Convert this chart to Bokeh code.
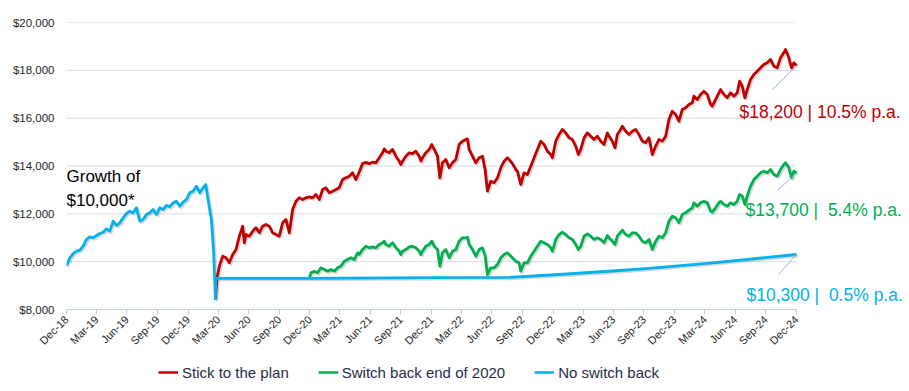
import math
import pandas as pd
from bokeh.plotting import figure
from bokeh.layouts import column
from bokeh.models import (Range1d, FixedTicker, DatetimeTickFormatter, NumeralTickFormatter,
                          Legend, LegendItem, Label)
from bokeh.embed import file_html
from bokeh.resources import INLINE

# ---------------- data ----------------
START = "2018-12-31"
END = "2024-12-31"

series_names = ["Stick to the plan", "Switch back end of 2020", "No switch back"]
series_colors = ["#C00000", "#00B050", "#00B0F0"]
end_labels = ["$18,200 | 10.5% p.a.", "$13,700 |\u00a0 5.4% p.a.", "$10,300 |\u00a0 0.5% p.a."]
title_text = "Growth of\n$10,000*"

y_ticks = [8000, 10000, 12000, 14000, 16000, 18000, 20000]
tick_dates = ["2018-12-31", "2019-03-31", "2019-06-30", "2019-09-30", "2019-12-31",
              "2020-03-31", "2020-06-30", "2020-09-30", "2020-12-31",
              "2021-03-31", "2021-06-30", "2021-09-30", "2021-12-31",
              "2022-03-31", "2022-06-30", "2022-09-30", "2022-12-31",
              "2023-03-31", "2023-06-30", "2023-09-30", "2023-12-31",
              "2024-03-31", "2024-06-30", "2024-09-30", "2024-12-31"]

# "No switch back" (shared history until the March 2020 switch to cash)
blue_days = [0, 10, 20, 30, 40, 50, 60, 70, 80, 90, 100, 110, 120, 130, 140, 150, 160,
             170, 180, 190, 200, 210, 220, 230, 240, 250, 260, 270, 280, 290, 300, 310,
             320, 330, 340, 350, 360, 370, 380, 390, 400, 410, 418, 425, 435, 442, 447,
             448, 729, 1100, 1329, 1479, 1629, 1749, 1949, 2192]
blue_vals = [9840, 10160, 10340, 10439, 10480, 10648, 10927, 11038, 10996, 11094, 11178,
             11233, 11373, 11275, 11693, 11512, 11623, 11832, 12014, 12111, 12042, 12251,
             11693, 11763, 11972, 12042, 12181, 11972, 12251, 12181, 12348, 12292, 12460,
             12529, 12320, 12488, 12599, 12878, 12947, 13157, 12878, 13087, 13226, 12599,
             11763, 10369, 8446,
             9300, 9300, 9330, 9345, 9463, 9600, 9720, 9960, 10300]

# "Stick to the plan"
red_days = [447, 450, 452, 459, 469, 479, 489, 499, 509, 519, 529, 534, 539, 549, 559, 569,
            579, 589, 599, 609, 619, 629, 639, 649, 659, 669, 679, 689, 699, 709, 719, 729,
            739, 749, 759, 769, 779, 789, 799, 809, 819, 829, 839, 849, 859, 869, 879, 889,
            899, 909, 919, 929, 939, 949, 954, 959, 969, 979, 989, 999, 1004, 1009, 1019,
            1029, 1039, 1049, 1059, 1064, 1069, 1079, 1089, 1097, 1104, 1114, 1121, 1129,
            1139, 1149, 1159, 1169, 1179, 1189, 1199, 1204, 1209, 1219, 1229, 1239, 1249,
            1257, 1264, 1274, 1284, 1294, 1304, 1314, 1324, 1329, 1339, 1349, 1354, 1359,
            1364, 1374, 1384, 1394, 1404, 1414, 1424, 1434, 1444, 1454, 1459, 1469, 1479,
            1489, 1499, 1509, 1519, 1529, 1537, 1544, 1554, 1564, 1574, 1584, 1594, 1604,
            1614, 1624, 1629, 1639, 1647, 1654, 1664, 1669, 1679, 1689, 1699, 1709, 1719,
            1729, 1739, 1749, 1759, 1769, 1779, 1789, 1799, 1809, 1819, 1829, 1839, 1849,
            1859, 1869, 1879, 1884, 1894, 1904, 1914, 1924, 1934, 1939, 1949, 1959, 1964,
            1974, 1984, 1994, 2004, 2014, 2021, 2029, 2037, 2044, 2054, 2064, 2074, 2084,
            2094, 2104, 2114, 2124, 2134, 2144, 2154, 2159, 2169, 2177, 2184, 2192]
red_vals = [8446, 9000, 9324, 9812, 10230, 10160, 9951, 10300, 10508, 11066, 11484, 10787,
            11136, 11066, 11275, 11414, 11205, 11484, 11554, 11484, 11205, 11136, 11066,
            11623, 11763, 11205, 12181, 12529, 12669, 12599, 12669, 12710, 12669, 12808,
            12599, 13017, 13087, 12878, 12947, 13017, 13087, 13435, 13505, 13575, 13714,
            13435, 13750, 14100, 14150, 14100, 14160, 14132, 14341, 14550, 14717, 14620,
            14550, 14690, 14411, 14202, 14062, 14202, 14411, 14550, 14522, 14620, 14411,
            14202, 14341, 14550, 14690, 14899, 14690, 14411, 13505, 14132, 14272, 13923,
            14132, 14272, 14899, 15038, 15108, 15136, 14690, 14411, 14132, 14341, 14411,
            13853, 12947, 13366, 13296, 13505, 13923, 14202, 14341, 14271, 14100, 13853,
            13784, 13500, 13226, 13714, 13644, 13992, 14341, 14689, 15038, 14898, 14620,
            14480, 14341, 15038, 15316, 15525, 15386, 15177, 15107, 14828, 14480, 14689,
            15177, 15386, 15247, 15107, 15247, 15038, 14898, 15386, 15247, 15038, 14759,
            15316, 15525, 15665, 15456, 15316, 15456, 15525, 15316, 15038, 14968, 15177,
            14480, 14829, 15108, 15038, 15247, 15944, 16293, 16153, 15874, 16362, 16432,
            16571, 16641, 16920, 16780, 16990, 17129, 16990, 16571, 16501, 16780, 17059,
            17198, 16990, 16850, 17059, 16920, 17059, 17547, 17338, 16850, 17198, 17617,
            17826, 17965, 18104, 18244, 18313, 18453, 18174, 18104, 18523, 18732, 18871,
            18523, 18104, 18313, 18200]

# "Switch back end of 2020"
green_days = [729, 734, 744, 754, 764, 774, 784, 794, 804, 814, 824, 834, 844, 854, 864,
              874, 879, 889, 899, 909, 919, 929, 939, 949, 954, 959, 969, 979, 989, 999,
              1004, 1009, 1019, 1029, 1039, 1049, 1059, 1064, 1069, 1079, 1089, 1097, 1104,
              1114, 1121, 1129, 1139, 1149, 1159, 1169, 1179, 1189, 1199, 1204, 1209, 1219,
              1229, 1239, 1249, 1257, 1264, 1274, 1284, 1294, 1304, 1314, 1324, 1329, 1339,
              1349, 1359, 1364, 1374, 1384, 1394, 1404, 1414, 1424, 1434, 1444, 1454, 1459,
              1469, 1479, 1489, 1499, 1509, 1519, 1529, 1537, 1544, 1554, 1564, 1574, 1584,
              1594, 1604, 1614, 1624, 1629, 1639, 1647, 1654, 1664, 1669, 1679, 1689, 1699,
              1709, 1719, 1729, 1739, 1749, 1759, 1769, 1779, 1789, 1799, 1809, 1819, 1829,
              1839, 1849, 1859, 1869, 1879, 1884, 1894, 1904, 1914, 1924, 1934, 1939, 1949,
              1959, 1964, 1974, 1984, 1994, 2004, 2014, 2021, 2029, 2037, 2044, 2054, 2064,
              2074, 2084, 2094, 2104, 2114, 2124, 2134, 2144, 2154, 2159, 2169, 2177, 2184,
              2192]
green_vals = [9300, 9533, 9603, 9533, 9742, 9672, 9603, 9672, 9603, 9742, 9812, 10021,
              10090, 10160, 10090, 10369, 10300, 10508, 10648, 10578, 10620, 10578, 10717,
              10787, 10857, 10717, 10648, 10787, 10578, 10439, 10299, 10439, 10508, 10620,
              10648, 10578, 10439, 10299, 10439, 10648, 10717, 10857, 10648, 10508, 9812,
              10369, 10508, 10160, 10439, 10508, 10857, 10996, 10996, 11024, 10717, 10508,
              10230, 10508, 10578, 10230, 9463, 9742, 9742, 9882, 10160, 10299, 10369, 10299,
              10160, 10020, 9951, 9602, 9951, 9951, 10229, 10438, 10647, 10856, 10787, 10717,
              10578, 10438, 10926, 11135, 11233, 11135, 10996, 10926, 10717, 10508, 10647,
              11065, 11163, 11065, 10926, 10996, 10926, 10787, 11093, 10996, 10856, 10717,
              11065, 11233, 11316, 11135, 11065, 11205, 11205, 11065, 10856, 10787, 10926,
              10508, 10857, 11066, 10996, 11206, 11693, 11902, 11833, 11624, 11972, 12042,
              12153, 12251, 12460, 12320, 12460, 12530, 12460, 12112, 12070, 12251, 12460,
              12530, 12390, 12320, 12460, 12390, 12530, 12808, 12739, 12390, 12739, 13157,
              13435, 13575, 13714, 13784, 13714, 13853, 13644, 13575, 13853, 14062, 14132,
              13923, 13505, 13784, 13700]

# ---------------- styling / layout ----------------
FONT = "Liberation Sans"
TICK_COLOR = "#262626"
GRID_COLOR = "#D3DCEA"
AXIS_COLOR = "#BCCDE6"
LEADER_COLOR = "#8EB4E3"
LEGEND_TEXT = "#1F2D46"
SHADOW_COLOR = "#7F7F7F"
LINE_W = 2.8

DATA_W = 730        # px spanned by Dec-18 .. Dec-24
FRAME_W = 838       # frame extends right so the end labels are not clipped
FRAME_H = 287

base = pd.Timestamp(START)
end = pd.Timestamp(END)
total_days = (end - base).days
days_per_px = total_days / DATA_W
vals_per_px = (y_ticks[-1] - y_ticks[0]) / FRAME_H
view_end = base + pd.Timedelta(days=FRAME_W * days_per_px)


def to_dt(days, shift_px=0.0):
    return [base + pd.Timedelta(days=float(d) + shift_px * days_per_px) for d in days]


p = figure(x_axis_type="datetime", frame_width=FRAME_W, frame_height=FRAME_H,
           x_range=Range1d(base, view_end),
           y_range=Range1d(y_ticks[0], y_ticks[-1]),
           output_backend="svg", toolbar_location=None,
           min_border_left=66, min_border_right=2, min_border_top=22, min_border_bottom=48)
p.outline_line_color = None
p.background_fill_color = "white"
p.border_fill_color = "white"
p.xgrid.grid_line_color = None
p.ygrid.grid_line_color = None

# y axis
p.yaxis.ticker = FixedTicker(ticks=y_ticks)
p.yaxis.formatter = NumeralTickFormatter(format="$0,0")
p.yaxis.axis_line_color = None
p.yaxis.major_tick_line_color = None
p.yaxis.minor_tick_line_color = None
p.yaxis.major_tick_out = 0
p.yaxis.major_label_standoff = 12
p.yaxis.major_label_text_font = FONT
p.yaxis.major_label_text_font_size = "11.5px"
p.yaxis.major_label_text_color = TICK_COLOR

# x axis, limited to the data span
tick_ms = [pd.Timestamp(d).value // 10**6 for d in tick_dates]
p.xaxis.ticker = FixedTicker(ticks=tick_ms)
fmt = "%b-%y"
p.xaxis.formatter = DatetimeTickFormatter(microseconds=fmt, milliseconds=fmt, seconds=fmt,
                                          minsec=fmt, minutes=fmt, hourmin=fmt, hours=fmt,
                                          days=fmt, months=fmt, years=fmt)
p.xaxis.bounds = (base, end)
p.xaxis.major_label_orientation = math.pi / 4
p.xaxis.axis_line_color = AXIS_COLOR
p.xaxis.major_tick_line_color = AXIS_COLOR
p.xaxis.minor_tick_line_color = None
p.xaxis.major_tick_in = 0
p.xaxis.major_tick_out = 5
p.xaxis.major_label_standoff = 3
p.xaxis.major_label_text_font = FONT
p.xaxis.major_label_text_font_size = "11px"
p.xaxis.major_label_text_color = TICK_COLOR

# horizontal gridlines across the data span only
grid_vals = y_ticks[1:]
p.segment(x0=[base] * len(grid_vals), y0=grid_vals, x1=[end] * len(grid_vals), y1=grid_vals,
          line_color=GRID_COLOR, line_width=1)

# soft drop shadows, then the lines
series = [(red_days, red_vals), (green_days, green_vals), (blue_days, blue_vals)]
for d, v in series:
    p.line(to_dt(d, 1.5), [x - 1.5 * vals_per_px for x in v], line_color=SHADOW_COLOR,
           line_alpha=0.3, line_width=LINE_W, line_join="round")
renderers = []
for (d, v), col in zip(series, series_colors):
    renderers.append(p.line(to_dt(d), v, line_color=col, line_width=LINE_W, line_join="round"))

# end labels and leader lines
leader_dx_px = [24, 19, 18]
leader_dy_px = [24, 17, 20]
label_offsets = [(-57, -46), (-51, -37), (-50, -41)]
for (d, v), col, txt, lx, ly, (ox, oy) in zip(series, series_colors, end_labels,
                                               leader_dx_px, leader_dy_px, label_offsets):
    x_end = base + pd.Timedelta(days=d[-1])
    x_start = base + pd.Timedelta(days=d[-1] - lx * days_per_px)
    p.segment(x0=[x_start], y0=[v[-1] - ly * vals_per_px], x1=[x_end], y1=[v[-1]],
              line_color=LEADER_COLOR, line_width=1)
    p.add_layout(Label(x=x_end, y=v[-1], x_offset=ox, y_offset=oy, text=txt, text_color=col,
                       text_font=FONT, text_font_size="17.5px", text_baseline="alphabetic"))

p.add_layout(Label(x=base, y=y_ticks[3] - 1 * vals_per_px, text=title_text,
                   text_color="#000000", text_font=FONT, text_font_size="17px",
                   text_baseline="top", text_line_height=1.25))

# legend in a strip below the chart (its frame is aligned with the chart frame)
leg = figure(width=FRAME_W + 68, height=32, x_range=Range1d(0, 1), y_range=Range1d(0, 1),
             x_axis_location=None, y_axis_location=None, output_backend="svg",
             toolbar_location=None, min_border=0)
leg.outline_line_color = None
leg.xgrid.grid_line_color = None
leg.ygrid.grid_line_color = None
dummies = [leg.line(x=[5, 6], y=[5, 6], line_color=c, line_width=2.5) for c in series_colors]
legend = Legend(items=[LegendItem(label=n, renderers=[r]) for n, r in zip(series_names, dummies)],
                orientation="horizontal", location=(92, 7),
                glyph_width=20, glyph_height=20, label_height=20, label_standoff=4,
                spacing=29, padding=0, margin=0,
                label_text_font=FONT, label_text_font_size="15px",
                label_text_color=LEGEND_TEXT,
                border_line_color=None, background_fill_alpha=0)
leg.add_layout(legend)

layout = column(p, leg, spacing=0)
open("out.html", "w").write(file_html(layout, INLINE))
